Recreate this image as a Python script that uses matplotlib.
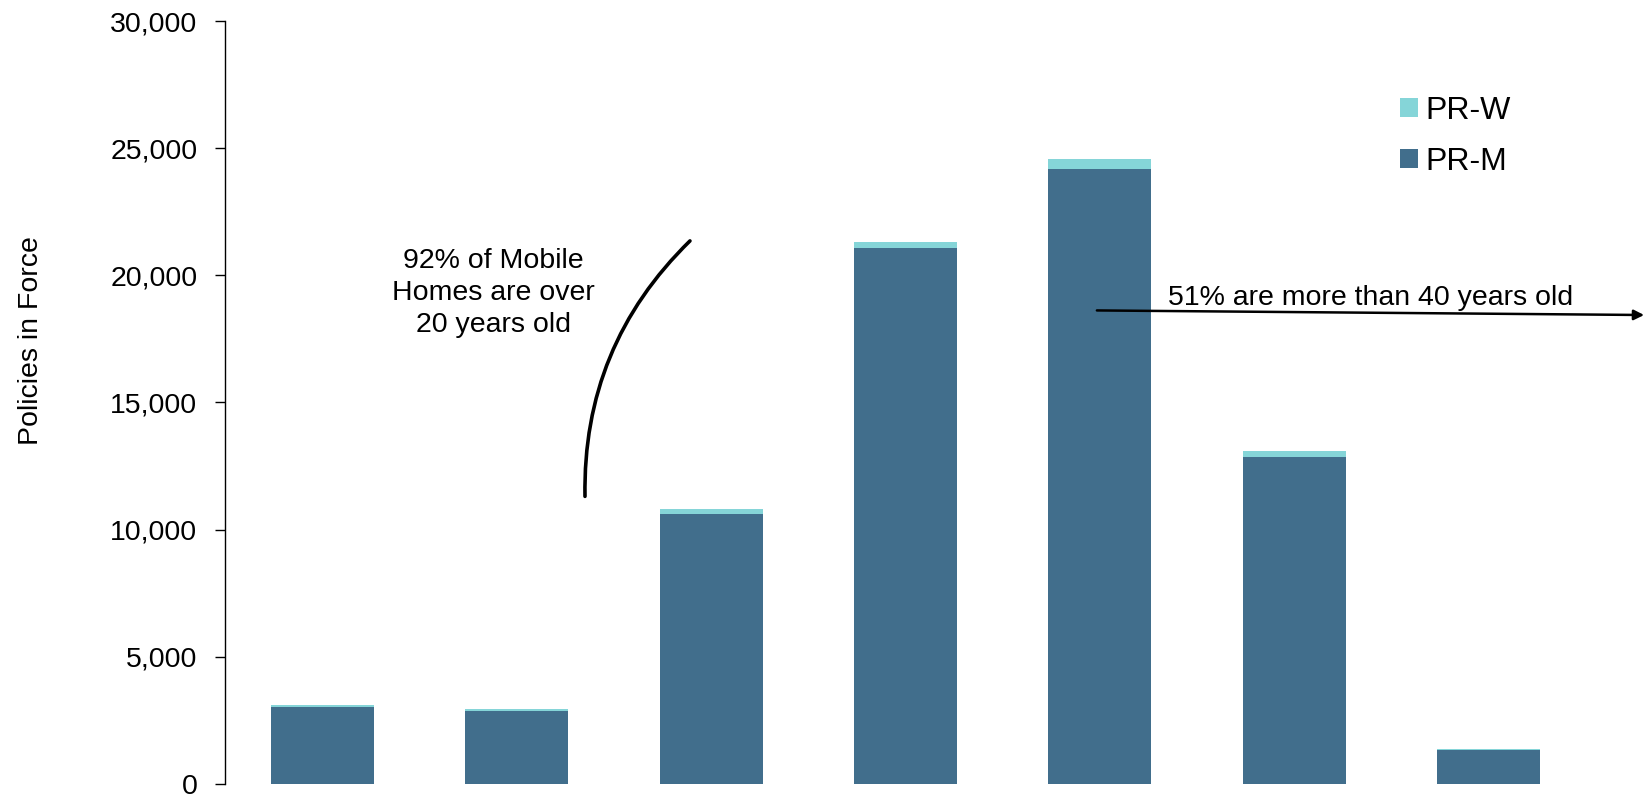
import matplotlib.pyplot as plt
import numpy as np

plt.rcParams['font.family'] = ['Liberation Sans', 'DejaVu Sans']

# Policies in force by age band (no category labels shown in the original)
age_bands = ['1', '2', '3', '4', '5', '6', '7']
pr_m = [3040, 2880, 10620, 21090, 24180, 12840, 1340]
pr_w = [50, 60, 200, 240, 390, 250, 40]

color_m = '#416E8C'
color_w = '#85D5D8'

fig = plt.figure(figsize=(16.45, 7.96), dpi=100)
ax = fig.add_axes([0.1368, 0.0151, 0.8272, 0.9585])

x = np.arange(len(age_bands))
ax.bar(x, pr_m, width=0.53, color=color_m, label='PR-M')
ax.bar(x, pr_w, width=0.53, bottom=pr_m, color=color_w, label='PR-W')

ax.set_xlim(-0.5, len(age_bands) - 0.5)
ax.set_ylim(0, 30000)
ax.set_yticks(range(0, 30001, 5000))
ax.yaxis.set_major_formatter(plt.FuncFormatter(lambda v, p: f'{int(v):,}'))
ax.tick_params(axis='y', labelsize=20.5, length=7, width=1, direction='out', pad=13)
ax.set_xticks([])
for side in ['top', 'right', 'bottom']:
    ax.spines[side].set_visible(False)
ax.spines['left'].set_linewidth(1)
fig.text(31.5 / 1645, 1 - 341 / 796, 'Policies in Force', rotation=90,
         ha='center', va='center', fontsize=20.5)

# Legend with PR-W on top
handles, labels = ax.get_legend_handles_labels()
ax.legend(handles[::-1], labels[::-1], loc='upper left',
          bbox_to_anchor=(1384 / 1645, 1 - 80 / 796), bbox_transform=fig.transFigure,
          frameon=False, fontsize=23, handlelength=0.55, handleheight=0.55,
          handletextpad=0.25, labelspacing=0.65, borderpad=0)

# Annotations
ax.text(0.879, 19300, '92% of Mobile\nHomes are over\n20 years old',
        ha='center', va='center', fontsize=20.5, linespacing=1.3)
ax.annotate('', xy=(1.902, 21430), xytext=(1.352, 11200),
            arrowprops=dict(arrowstyle='-', lw=2.6, color='black',
                            connectionstyle='arc3,rad=-0.22'))

ax.text(5.395, 19100, '51% are more than 40 years old',
        ha='center', va='center', fontsize=20.5)
ax.annotate('', xy=(6.80, 18440), xytext=(3.985, 18620), annotation_clip=False,
            arrowprops=dict(arrowstyle='-|>', lw=1.8, color='black',
                            mutation_scale=15, shrinkA=0, shrinkB=0))

fig.savefig('out.png', dpi=100)
